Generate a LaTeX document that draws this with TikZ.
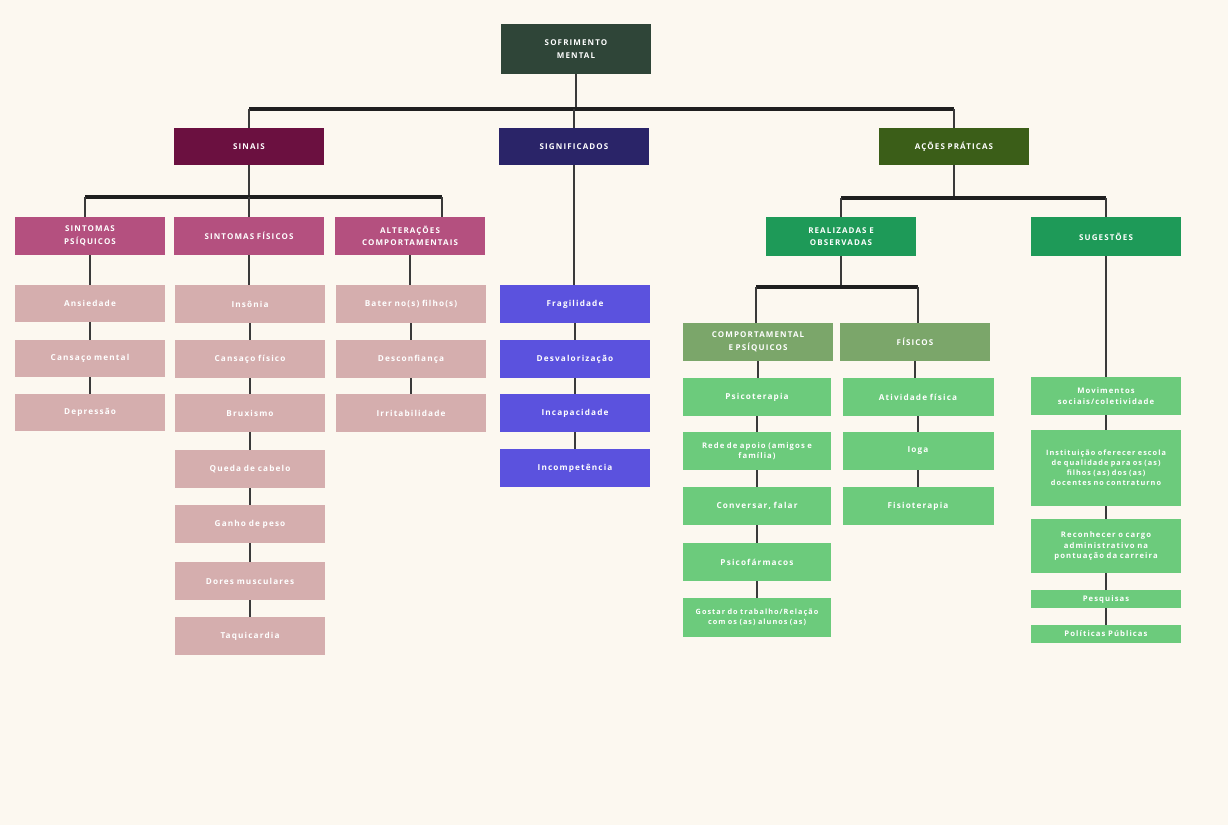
\documentclass[tikz,border=0pt]{standalone}
\usepackage{fontspec}
\setmainfont{Open Sans}
\newfontfamily\lbl[LetterSpace=14,WordSpace=2.8]{Open Sans}
\definecolor{bgC}{HTML}{FCF8F0}
\definecolor{rootC}{HTML}{2F4538}
\definecolor{sinC}{HTML}{6B1040}
\definecolor{sigC}{HTML}{2A2468}
\definecolor{acoC}{HTML}{3B5E18}
\definecolor{pinkC}{HTML}{B4507F}
\definecolor{lpinkC}{HTML}{D5AEAE}
\definecolor{blueC}{HTML}{5B52DE}
\definecolor{gmidC}{HTML}{1E9A58}
\definecolor{sageC}{HTML}{7BA66A}
\definecolor{lgC}{HTML}{6CCB7C}
\definecolor{lineC}{HTML}{3A3A3A}
\tikzset{
  box/.style={draw=none, text=white, align=center, inner sep=1pt,
    minimum width=150pt, text width=148pt,
    font=\lbl\bfseries\fontsize{8.2}{11}\selectfont},
  head/.style={box, font=\lbl\bfseries\fontsize{8}{12.5}\selectfont},
  small/.style={font=\lbl\bfseries\fontsize{7.7}{10.6}\selectfont},
  tiny/.style={font=\lbl\bfseries\fontsize{7.3}{10}\selectfont},
  conn/.style={draw=lineC, line width=1.3pt},
  bar/.style={draw=black!88, line width=3.6pt}
}
\begin{document}
\begin{tikzpicture}[x=1pt,y=-1pt]
\useasboundingbox (0,0) rectangle (1228,825);
\fill[bgC] (0,0) rectangle (1228,825);

% level 0/1
\node[head, fill=rootC, minimum height=50pt] (root) at (576,49) {SOFRIMENTO\\MENTAL};
\node[head, fill=sinC, minimum height=37pt] (sinais) at (249,146.5) {SINAIS};
\node[head, fill=sigC, minimum height=37pt] (signif) at (574,146.5) {SIGNIFICADOS};
\node[head, fill=acoC, minimum height=37pt] (acoes) at (954,146.5) {AÇÕES PRÁTICAS};

% sinais branch
\node[head, fill=pinkC, minimum height=38pt] (psiq) at (90,236) {SINTOMAS\\PSÍQUICOS};
\node[head, fill=pinkC, minimum height=38pt] (fis) at (249,236) {SINTOMAS FÍSICOS};
\node[head, fill=pinkC, minimum height=38pt] (alt) at (410,236) {ALTERAÇÕES\\COMPORTAMENTAIS};

\node[box, fill=lpinkC, minimum height=37pt] (p1) at (90,303.5) {Ansiedade};
\node[box, fill=lpinkC, minimum height=37pt] (p2) at (90,358.5) {Cansaço mental};
\node[box, fill=lpinkC, minimum height=37pt] (p3) at (90,412.5) {Depressão};

\node[box, fill=lpinkC, minimum height=38pt] (f1) at (250,304) {Insônia};
\node[box, fill=lpinkC, minimum height=38pt] (f2) at (250,359) {Cansaço físico};
\node[box, fill=lpinkC, minimum height=38pt] (f3) at (250,413) {Bruxismo};
\node[box, fill=lpinkC, minimum height=38pt] (f4) at (250,469) {Queda de cabelo};
\node[box, fill=lpinkC, minimum height=38pt] (f5) at (250,524) {Ganho de peso};
\node[box, fill=lpinkC, minimum height=38pt] (f6) at (250,581) {Dores musculares};
\node[box, fill=lpinkC, minimum height=38pt] (f7) at (250,636) {Taquicardia};

\node[box, fill=lpinkC, minimum height=38pt] (a1) at (411,304) {Bater no(s) filho(s)};
\node[box, fill=lpinkC, minimum height=38pt] (a2) at (411,359) {Desconfiança};
\node[box, fill=lpinkC, minimum height=38pt] (a3) at (411,413) {Irritabilidade};

% significados branch
\node[box, fill=blueC, minimum height=38pt] (g1) at (575,304) {Fragilidade};
\node[box, fill=blueC, minimum height=38pt] (g2) at (575,359) {Desvalorização};
\node[box, fill=blueC, minimum height=38pt] (g3) at (575,413) {Incapacidade};
\node[box, fill=blueC, minimum height=38pt] (g4) at (575,468) {Incompetência};

% acoes branch
\node[head, fill=gmidC, minimum height=39pt] (real) at (841,236.5) {REALIZADAS E\\OBSERVADAS};
\node[head, fill=gmidC, minimum height=39pt] (sug) at (1106,236.5) {SUGESTÕES};

\node[head, fill=sageC, minimum height=38pt] (comp) at (758,342) {COMPORTAMENTAL\\E PSÍQUICOS};
\node[head, fill=sageC, minimum height=38pt] (fisc) at (915,342) {FÍSICOS};

\node[box, fill=lgC, minimum width=148pt, text width=146pt, minimum height=38pt] (c1) at (757,397) {Psicoterapia};
\node[box, small, fill=lgC, minimum width=148pt, text width=146pt, minimum height=38pt] (c2) at (757,451) {Rede de apoio (amigos e\\família)};
\node[box, fill=lgC, minimum width=148pt, text width=146pt, minimum height=38pt] (c3) at (757,506) {Conversar, falar};
\node[box, fill=lgC, minimum width=148pt, text width=146pt, minimum height=38pt] (c4) at (757,562) {Psicofármacos};
\node[box, tiny, fill=lgC, minimum width=148pt, text width=146pt, minimum height=39pt] (c5) at (757,617.5) {Gostar do trabalho/Relação\\com os (as) alunos (as)};

\node[box, fill=lgC, minimum width=151pt, minimum height=38pt] (x1) at (918,397) {Atividade física};
\node[box, fill=lgC, minimum width=151pt, minimum height=38pt] (x2) at (918,451) {Ioga};
\node[box, fill=lgC, minimum width=151pt, minimum height=38pt] (x3) at (918,506) {Fisioterapia};

\node[box, small, fill=lgC, minimum height=38pt] (s1) at (1106,396) {Movimentos\\sociais/coletividade};
\node[box, tiny, fill=lgC, minimum height=76pt] (s2) at (1106,468) {Instituição oferecer escola\\de qualidade para os (as)\\filhos (as) dos (as)\\docentes no contraturno};
\node[box, small, fill=lgC, minimum height=54pt] (s3) at (1106,546) {Reconhecer o cargo\\administrativo na\\pontuação da carreira};
\node[box, small, fill=lgC, minimum height=18pt] (s4) at (1106,599) {Pesquisas};
\node[box, small, fill=lgC, minimum height=18pt] (s5) at (1106,634) {Políticas Públicas};

% top bar
\coordinate (t1) at (0,109);
\draw[conn] (root.south) -- (root.south |- t1);
\draw[bar] (sinais.north |- t1) -- (acoes.north |- t1);
\foreach \n in {sinais,signif,acoes} \draw[conn] (\n.north |- t1) -- (\n.north);

% sinais bar
\coordinate (sb1) at (85,197);
\coordinate (sb2) at (442,197);
\draw[conn] (sinais.south) -- (sinais.south |- sb1);
\draw[bar] (sb1) -- (sb2);
\draw[conn] (sb1) -- (sb1 |- psiq.north);
\draw[conn] (fis.north |- sb1) -- (fis.north);
\draw[conn] (sb2) -- (sb2 |- alt.north);

% acoes bar
\coordinate (ab) at (0,198);
\draw[conn] (acoes.south) -- (acoes.south |- ab);
\draw[bar] (real.north |- ab) -- (sug.north |- ab);
\draw[conn] (real.north |- ab) -- (real.north);
\draw[conn] (sug.north |- ab) -- (sug.north);

% realizadas bar
\coordinate (rb1) at (756,287);
\coordinate (rb2) at (918,287);
\draw[conn] (real.south) -- (real.south |- rb1);
\draw[bar] (rb1) -- (rb2);
\draw[conn] (rb1) -- (rb1 |- comp.north);
\draw[conn] (rb2) -- (rb2 |- fisc.north);

% chains
\foreach \a/\b in {psiq/p1,p1/p2,p2/p3,fis/f1,f1/f2,f2/f3,f3/f4,f4/f5,f5/f6,f6/f7,
  alt/a1,a1/a2,a2/a3,signif/g1,g1/g2,g2/g3,g3/g4,comp/c1,c1/c2,c2/c3,c3/c4,c4/c5,
  fisc/x1,x1/x2,x2/x3,sug/s1,s1/s2,s2/s3,s3/s4,s4/s5}
  \draw[conn] (\a.south) -- (\a.south |- \b.north);
\end{tikzpicture}
\end{document}
